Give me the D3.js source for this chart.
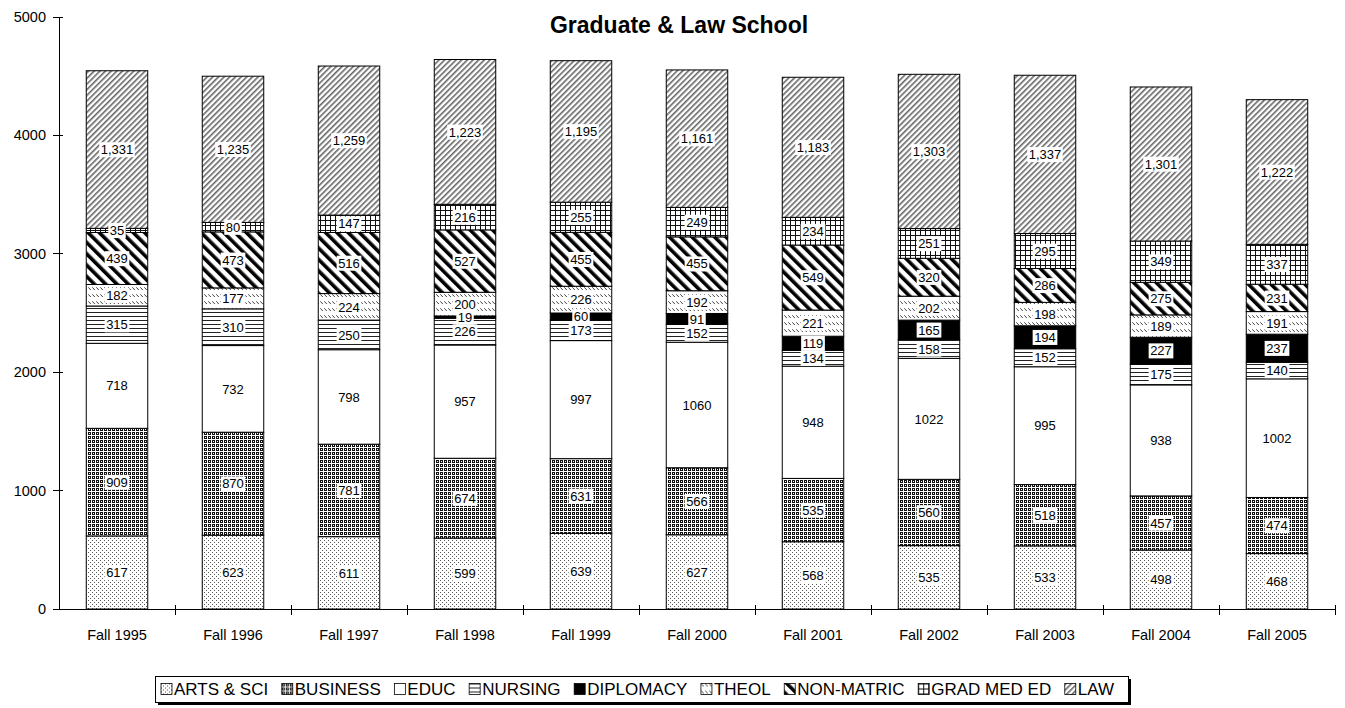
<!DOCTYPE html>
<html>
<head>
<meta charset="utf-8">
<script src="https://cdn.jsdelivr.net/npm/d3@7"></script>
<style>
  body { margin: 0; background: #fff; }
  svg { display: block; font-family: Arial, "Liberation Sans", sans-serif; }
</style>
</head>
<body>
<svg id="chart" width="1345" height="708"></svg>
<script>
// Enrollment by school, fall terms
const years = ["Fall 1995", "Fall 1996", "Fall 1997", "Fall 1998", "Fall 1999", "Fall 2000",
               "Fall 2001", "Fall 2002", "Fall 2003", "Fall 2004", "Fall 2005"];
const artsSci   = [617, 623, 611, 599, 639, 627, 568, 535, 533, 498, 468];
const business  = [909, 870, 781, 674, 631, 566, 535, 560, 518, 457, 474];
const educ      = [718, 732, 798, 957, 997, 1060, 948, 1022, 995, 938, 1002];
const nursing   = [315, 310, 250, 226, 173, 152, 134, 158, 152, 175, 140];
const diplomacy = [0, 0, 0, 19, 60, 91, 119, 165, 194, 227, 237];
const theol     = [182, 177, 224, 200, 226, 192, 221, 202, 198, 189, 191];
const nonMatric = [439, 473, 516, 527, 455, 455, 549, 320, 286, 275, 231];
const gradMedEd = [35, 80, 147, 216, 255, 249, 234, 251, 295, 349, 337];
const law       = [1331, 1235, 1259, 1223, 1195, 1161, 1183, 1303, 1337, 1301, 1222];
const yTicks = [0, 1000, 2000, 3000, 4000, 5000];
const title = "Graduate & Law School";

const plain = d3.format("d");
const comma = d3.format(",");
const series = [
  { key: "ARTS & SCI",  values: artsSci,   fill: "url(#pArts)",  fmt: plain },
  { key: "BUSINESS",    values: business,  fill: "url(#pBus)",   fmt: plain },
  { key: "EDUC",        values: educ,      fill: "#ffffff",      fmt: plain },
  { key: "NURSING",     values: nursing,   fill: "url(#pNurs)",  fmt: plain },
  { key: "DIPLOMACY",   values: diplomacy, fill: "#000000",      fmt: plain },
  { key: "THEOL",       values: theol,     fill: "url(#pTheol)", fmt: plain },
  { key: "NON-MATRIC",  values: nonMatric, fill: "url(#pNon)",   fmt: plain },
  { key: "GRAD MED ED", values: gradMedEd, fill: "url(#pGrad)",  fmt: plain },
  { key: "LAW",         values: law,       fill: "url(#pLaw)",   fmt: comma }
];

const svg = d3.select("#chart");
const defs = svg.append("defs");

// ---- fill patterns ----
function pattern(id, w, h, transform) {
  const p = defs.append("pattern").attr("id", id)
    .attr("patternUnits", "userSpaceOnUse").attr("width", w).attr("height", h);
  if (transform) p.attr("patternTransform", transform);
  p.append("rect").attr("width", w).attr("height", h).attr("fill", "#fff");
  return p;
}
// sparse dots
let p = pattern("pArts", 4, 4);
p.append("rect").attr("x", 0).attr("y", 0).attr("width", 1).attr("height", 1).attr("fill", "#555");
p.append("rect").attr("x", 2).attr("y", 2).attr("width", 1).attr("height", 1).attr("fill", "#555");
// dark check
p = pattern("pBus", 4, 4);
p.append("rect").attr("x", 0).attr("y", 0).attr("width", 3).attr("height", 3).attr("fill", "#111");
p.append("rect").attr("x", 1).attr("y", 1).attr("width", 1).attr("height", 1).attr("fill", "#fff");
// horizontal rules
p = pattern("pNurs", 8, 4);
p.append("rect").attr("x", 0).attr("y", 0).attr("width", 8).attr("height", 1).attr("fill", "#222");
// short dashes in rows
p = pattern("pTheol", 4, 7);
p.append("path").attr("d", "M0.3,0.3 L2.8,3").attr("stroke", "#444").attr("stroke-width", 1).attr("fill", "none");
// wide diagonal stripes
p = pattern("pNon", 8, 8, "rotate(-45)");
p.append("rect").attr("x", 0).attr("y", 0).attr("width", 3.6).attr("height", 8).attr("fill", "#000");
// grid
p = pattern("pGrad", 5, 5);
p.append("rect").attr("x", 0).attr("y", 0).attr("width", 1).attr("height", 5).attr("fill", "#111");
p.append("rect").attr("x", 0).attr("y", 0).attr("width", 5).attr("height", 1).attr("fill", "#111");
// thin diagonals
p = pattern("pLaw", 4, 4, "rotate(45)");
p.append("rect").attr("x", 0).attr("y", 0).attr("width", 1.6).attr("height", 4).attr("fill", "#666");

// ---- scales ----
const x0 = 59, x1 = 1335, yTop = 17, yBase = 609;
const x = d3.scaleBand().domain(years).range([x0, x1]).paddingInner(0.47).paddingOuter(0.235);
const y = d3.scaleLinear().domain([0, 5000]).range([yBase, yTop]);

const rows = years.map((yr, i) => {
  const r = { year: yr };
  series.forEach(s => r[s.key] = s.values[i]);
  return r;
});
const stacked = d3.stack().keys(series.map(s => s.key))(rows);

// ---- bars ----
const g = svg.append("g");
stacked.forEach((layer, li) => {
  g.append("g").selectAll("rect").data(layer.filter(d => d[1] - d[0] > 0)).join("rect")
    .attr("x", d => x(d.data.year))
    .attr("width", x.bandwidth())
    .attr("y", d => y(d[1]))
    .attr("height", d => y(d[0]) - y(d[1]))
    .attr("fill", series[li].fill)
    .attr("stroke", "#000")
    .attr("stroke-width", 1);
});

// ---- axes ----
const axisG = svg.append("g").attr("stroke", "#000").attr("stroke-width", 1).attr("shape-rendering", "crispEdges");
axisG.append("line").attr("x1", x0).attr("x2", x0).attr("y1", yTop).attr("y2", yBase);
axisG.append("line").attr("x1", x0).attr("x2", x1).attr("y1", yBase).attr("y2", yBase);
axisG.selectAll(".yt").data(yTicks).join("line")
  .attr("x1", x0 - 6).attr("x2", x0 + 4).attr("y1", d => y(d)).attr("y2", d => y(d));
const bounds = d3.range(years.length + 1).map(i => x0 + i * x.step());
axisG.selectAll(".xt").data(bounds.slice(1)).join("line")
  .attr("x1", d => d).attr("x2", d => d).attr("y1", yBase - 4).attr("y2", yBase + 6);

svg.append("g").selectAll("text").data(yTicks).join("text")
  .attr("x", x0 - 13).attr("y", d => y(d)).attr("dy", "0.35em")
  .attr("text-anchor", "end").attr("font-size", 14.5).text(d => d);

svg.append("g").selectAll("text").data(years).join("text")
  .attr("x", d => x(d) + x.bandwidth() / 2).attr("y", 640)
  .attr("text-anchor", "middle").attr("font-size", 14.5).text(d => d);

// ---- value labels ----
const labG = svg.append("g");
stacked.forEach((layer, li) => {
  layer.forEach(d => {
    const v = d[1] - d[0];
    if (v <= 0) return;
    const cx = x(d.data.year) + x.bandwidth() / 2;
    const cy = (y(d[0]) + y(d[1])) / 2;
    const lg = labG.append("g");
    const bg = lg.append("rect").attr("fill", "#fff");
    const t = lg.append("text").attr("x", cx).attr("y", cy).attr("dy", "0.36em")
      .attr("text-anchor", "middle").attr("font-size", 13).text(series[li].fmt(v));
    const b = t.node().getBBox();
    bg.attr("x", b.x - 1.5).attr("y", b.y).attr("width", b.width + 3).attr("height", b.height);
  });
});

// ---- title ----
svg.append("text").attr("x", 679).attr("y", 33).attr("text-anchor", "middle")
  .attr("font-size", 23).attr("font-weight", "bold").text(title);

// ---- legend ----
const legL = 155, legR = 1128, legT = 676, legB = 702;
svg.append("rect").attr("x", legL + 3).attr("y", legT + 3).attr("width", legR - legL).attr("height", legB - legT).attr("fill", "#000");
svg.append("rect").attr("x", legL).attr("y", legT).attr("width", legR - legL).attr("height", legB - legT)
  .attr("fill", "#fff").attr("stroke", "#000").attr("stroke-width", 1).attr("shape-rendering", "crispEdges");
const legG = svg.append("g");
const sw = 11, swGap = 2;
const items = series.map(s => {
  const it = legG.append("g");
  it.append("rect").attr("width", sw).attr("height", sw).attr("fill", s.fill)
    .attr("stroke", "#000").attr("stroke-width", 0.8);
  const t = it.append("text").attr("x", sw + swGap).attr("y", sw / 2).attr("dy", "0.36em")
    .attr("font-size", 17).text(s.key);
  return { it, w: sw + swGap + t.node().getComputedTextLength() };
});
const startX = 161, endX = 1114;
const totalW = d3.sum(items, d => d.w);
const gap = (endX - startX - totalW) / (items.length - 1);
let cur = startX;
const legMid = (legT + legB) / 2;
items.forEach(d => {
  d.it.attr("transform", `translate(${cur},${legMid - sw / 2})`);
  cur += d.w + gap;
});
</script>
</body>
</html>
